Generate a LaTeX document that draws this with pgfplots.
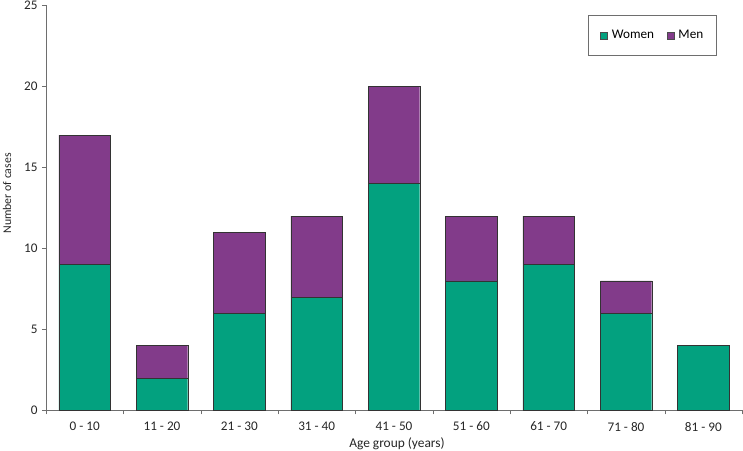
\documentclass[border=0pt]{standalone}
\usepackage{fontspec}
\setmainfont{Carlito}
\usepackage{pgfplots}
\pgfplotsset{compat=1.18}

\definecolor{womengreen}{RGB}{3,161,127}
\definecolor{menpurple}{RGB}{130,59,138}
\definecolor{axisgray}{RGB}{110,110,110}

\begin{document}
\begin{tikzpicture}
\begin{axis}[
name=ax,
scale only axis,
width=696pt, height=405pt,
ybar stacked,
bar width=0.665,
xmin=-0.5, xmax=8.5,
ymin=0, ymax=25,
axis x line*=bottom,
axis y line*=left,
axis line style={axisgray},
xtick={0,...,8},
xticklabels={0 - 10,11 - 20,21 - 30,31 - 40,41 - 50,51 - 60,61 - 70,71 - 80,81 - 90},
major x tick style={draw=none},
minor xtick={-0.5,0.5,...,8.5},
minor x tick style={axisgray},
ytick={0,5,...,25},
y tick style={axisgray},
tick align=outside,
major tick length=4pt,
minor tick length=4pt,
/pgf/number format/assume math mode=true,
tick label style={font=\fontsize{13.2}{15}\selectfont, text=black!85},
xticklabel style={yshift=-4pt},
yticklabel style={xshift=-1pt},
xlabel={Age group (years)},
ylabel={Number of cases},
xlabel style={font=\fontsize{13.4}{15}\selectfont, text=black!85,
  at={(axis description cs:0.5043,0)}, anchor=center, yshift=-33.5pt},
ylabel style={font=\fontsize{11.8}{14}\selectfont, text=black!85,
  at={(axis description cs:-0.056,0.536)}, anchor=center},
legend columns=2,
legend style={at={(0.9626,0.976)}, anchor=north east, draw=axisgray,
  font=\fontsize{13.2}{15}\selectfont, inner xsep=12.5pt, inner ysep=15pt,
  nodes={inner sep=0pt},
  /tikz/every odd column/.append style={column sep=4pt},
  /tikz/every even column/.append style={column sep=13pt}},
legend image code/.code={\draw[#1, draw=black!70] (0pt,-3.5pt) rectangle (7pt,3.5pt);},
]
\addplot[fill=womengreen, draw=black!80] coordinates {
(0,9) (1,2) (2,6) (3,7) (4,14) (5,8) (6,9) (7,6) (8,4)};
\addplot[fill=menpurple, draw=black!80] coordinates {
(0,8) (1,2) (2,5) (3,5) (4,6) (5,4) (6,3) (7,2) (8,0)};
\legend{Women,Men}
\end{axis}
\pgfresetboundingbox
\path[use as bounding box] ([xshift=-46pt,yshift=-40.5pt]ax.south west) rectangle ([xshift=1pt,yshift=5.5pt]ax.north east);
\end{tikzpicture}
\end{document}
